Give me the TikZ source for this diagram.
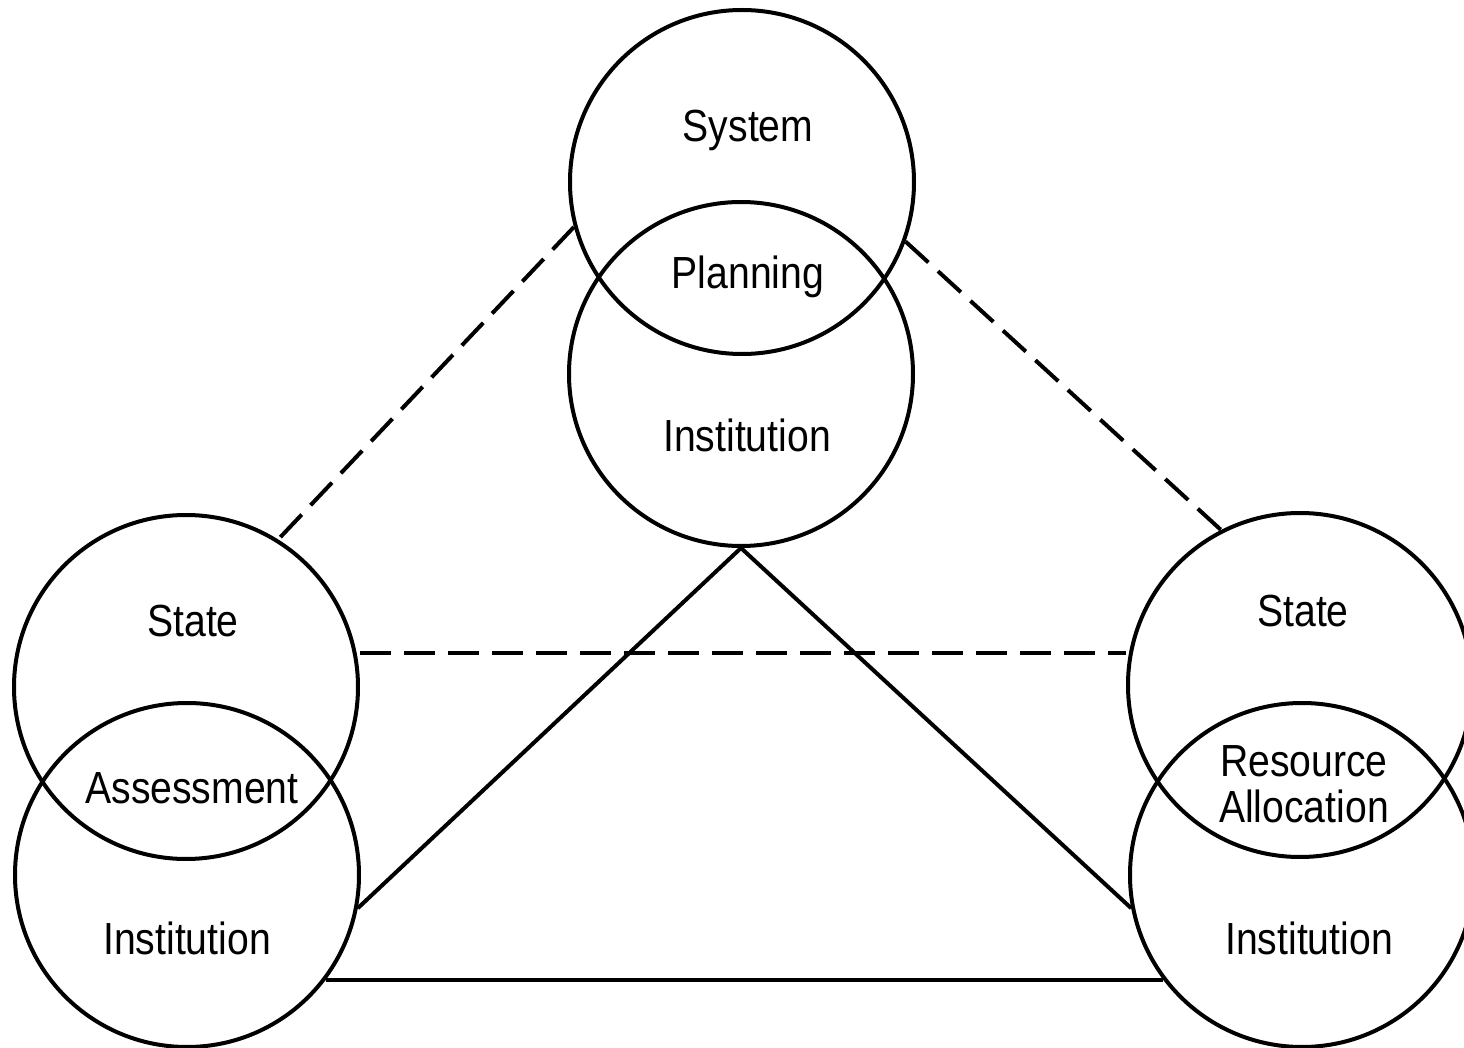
\documentclass[tikz,border=0pt]{standalone}
\usepackage{fontspec}
\setmainfont{Liberation Sans}[FakeStretch=0.87]
\begin{document}
\begin{tikzpicture}[x=0.5pt,y=-0.5pt,
  ring/.style={circle,draw,line width=2pt,minimum size=172pt,inner sep=0pt},
  lbl/.style={font=\fontsize{22.5}{24}\selectfont,inner sep=0pt,align=center},
  conn/.style={line width=2pt},
  dconn/.style={line width=2pt,dash pattern=on 15.5pt off 6.5pt}]
\useasboundingbox (0,0) rectangle (1464,1048);
\clip (0,0) rectangle (1464,1048);
% circles
\node[ring] (sys) at (742,182) {};
\node[ring] (tinst) at (741,374) {};
\node[ring] (lstate) at (186,687) {};
\node[ring] (linst) at (187,875) {};
\node[ring] (rstate) at (1300,685) {};
\node[ring] (rinst) at (1302,875) {};
% labels
\node[lbl] (tSys) at (748,130) {System};
\node[lbl] (tPlan) at (748,277) {Planning};
\node[lbl] (tInst) at (747,435) {Institution};
\node[lbl] (lSt) at (193,621) {State};
\node[lbl] (lAs) at (192,788) {Assessment};
\node[lbl] (lIn) at (187,938) {Institution};
\node[lbl] (rSt) at (1303,611) {State};
\node[lbl] (rRA) at (1304,784) {Resource\\[-1pt]Allocation};
\node[lbl] (rIn) at (1309,938) {Institution};
% dashed connectors
\draw[dconn] (sys.195.7) -- (lstate.58.8);
\draw[dconn] (sys.-20.4) -- (rstate.117.8);
\draw[dconn] (lstate.east |- 0,653) -- (rstate.west |- 0,653);
% solid connectors
\draw[conn] (tinst.south) -- (linst.-11.6);
\draw[conn] (tinst.south) -- (rinst.191.5);
\draw[conn] (linst.-37.2) -- (rinst.217.2);
\end{tikzpicture}
\end{document}
